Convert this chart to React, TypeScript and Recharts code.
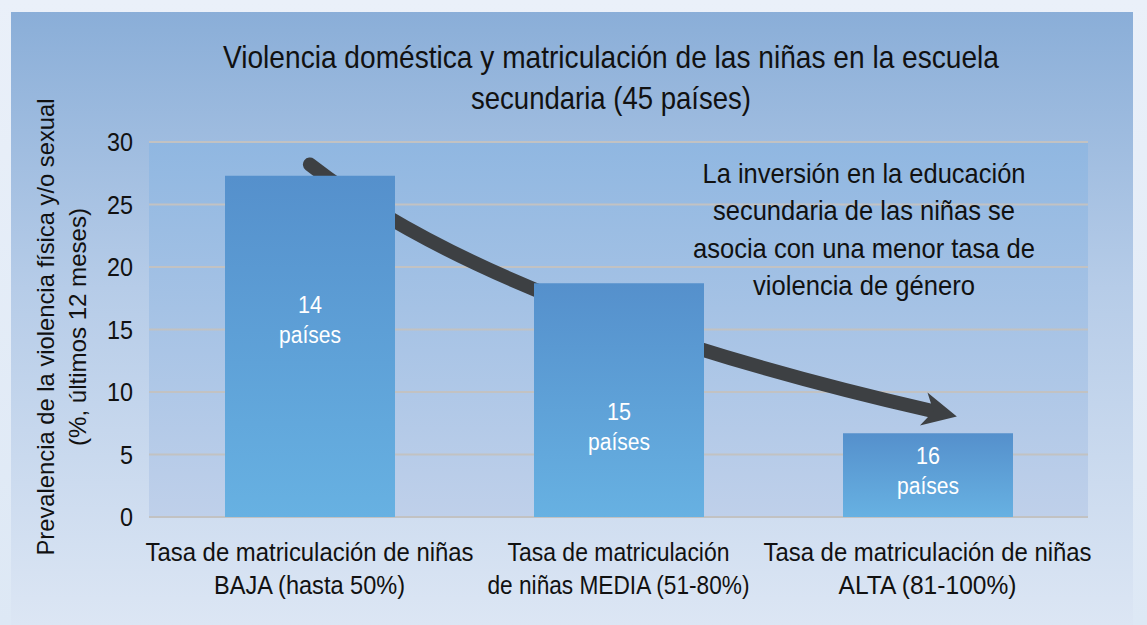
import React from "react"
import {
    BarChart,
    Bar,
    XAxis,
    YAxis,
    CartesianGrid,
    LabelList,
    Customized
} from "recharts"

const categoriesTop = [
    "Tasa de matriculación de niñas",
    "Tasa de matriculación",
    "Tasa de matriculación de niñas"
]
const categoriesBottom = [
    "BAJA (hasta 50%)",
    "de niñas MEDIA (51-80%)",
    "ALTA (81-100%)"
]
const prevalence = [27.3, 18.7, 6.7]
const countries = [14, 15, 16]
const yTicks = [0, 5, 10, 15, 20, 25, 30]

const titleLines = [
    "Violencia doméstica y matriculación de las niñas en la escuela",
    "secundaria (45 países)"
]
const yLabelLines = [
    "Prevalencia de la violencia física y/o sexual",
    "(%, últimos 12 meses)"
]
const noteLines = [
    "La inversión en la educación",
    "secundaria de las niñas se",
    "asocia con una menor tasa de",
    "violencia de género"
]

// the source font is a condensed grotesque: squeeze lines to measured widths
const TITLE_W = [776, 280]
const YLABEL_W = [457, 238]
const NOTE_W = [323, 302, 342, 222]
const XTOP_W = [328, 222, 328]
const XBOTTOM_W = [191, 262, 178]

const FONT = '"Liberation Sans", Arial, sans-serif'
const W = 1147
const H = 625
const M = { top: 142, right: 59, left: 89, bottom: 28 }
const Y_W = 60
const X_H = 80
const PLOT_L = M.left + Y_W
const PLOT_T = M.top
const PLOT_W = W - M.right - PLOT_L
const PLOT_H = H - M.bottom - X_H - PLOT_T
const BAND = PLOT_W / categoriesTop.length

// band units / value units -> pixels (same domain as the axes)
const bx = (u: number) => PLOT_L + u * BAND
const vy = (v: number) => PLOT_T + ((30 - v) / 30) * PLOT_H

const data = prevalence.map((v, i) => ({
    name: categoriesTop[i],
    value: v,
    countries: countries[i]
}))

function FitText({ x, y, w, size, fill = "#111", children }: any) {
    return (
        <text
            x={x}
            y={y}
            textAnchor="middle"
            dominantBaseline="central"
            fontSize={size}
            fill={fill}
            fontFamily={FONT}
            textLength={w}
            lengthAdjust="spacingAndGlyphs"
        >
            {children}
        </text>
    )
}

function XTick({ x, y, payload }: any) {
    const i = payload.index
    return (
        <g transform={`translate(${x},${y})`}>
            <FitText x={0} y={27} w={XTOP_W[i]} size={25}>{categoriesTop[i]}</FitText>
            <FitText x={0} y={60} w={XBOTTOM_W[i]} size={25}>{categoriesBottom[i]}</FitText>
        </g>
    )
}

function YTick({ x, y, payload }: any) {
    const s = String(payload.value)
    return (
        <text
            x={x}
            y={y}
            textAnchor="end"
            dominantBaseline="central"
            fontSize={25}
            fill="#111"
            fontFamily={FONT}
            textLength={s.length * 13}
            lengthAdjust="spacingAndGlyphs"
        >
            {s}
        </text>
    )
}

function CountLabel({ x, y, width, height, index }: any) {
    const dy = height > 120 ? 144 : height * 0.45
    const cx = x + width / 2
    return (
        <g>
            <FitText x={cx} y={y + dy - 15} w={24} size={23} fill="#fff">{countries[index]}</FitText>
            <FitText x={cx} y={y + dy + 15} w={62} size={23} fill="#fff">países</FitText>
        </g>
    )
}

function Overlay() {
    const p0 = [bx(0.514), vy(28.2)]
    const c = [bx(1.12), vy(16.4)]
    const p1 = [bx(2.5), vy(8.5)]
    const ang = Math.atan2(p1[1] - c[1], p1[0] - c[0])
    const deg = (ang * 180) / Math.PI
    const tip = [p1[0] + Math.cos(ang) * 26, p1[1] + Math.sin(ang) * 26]
    return (
        <g>
            <path
                d={`M${p0[0]},${p0[1]} Q${c[0]},${c[1]} ${p1[0]},${p1[1]}`}
                fill="none"
                stroke="#3d4043"
                strokeWidth={14}
                strokeLinecap="round"
            />
            <polygon
                points="0,0 -34,-17 -24,0 -34,17"
                fill="#3d4043"
                transform={`translate(${tip[0]},${tip[1]}) rotate(${deg})`}
            />
            {noteLines.map((l, i) => (
                <FitText key={i} x={864} y={173 + i * 37.5} w={NOTE_W[i]} size={28}>{l}</FitText>
            ))}
            {titleLines.map((l, i) => (
                <FitText key={i} x={611} y={57 + i * 41} w={TITLE_W[i]} size={32}>{l}</FitText>
            ))}
            <g transform="translate(0,327) rotate(-90)">
                <FitText x={0} y={45} w={YLABEL_W[0]} size={24}>{yLabelLines[0]}</FitText>
                <FitText x={0} y={77} w={YLABEL_W[1]} size={24}>{yLabelLines[1]}</FitText>
            </g>
        </g>
    )
}

export default function App() {
    return (
        <div
            style={{
                position: "absolute",
                left: 0,
                top: 0,
                width: W,
                height: H,
                overflow: "hidden",
                background: "linear-gradient(180deg, #eaf0f9 0%, #dde8f5 100%)"
            }}
        >
            <svg width={0} height={0} style={{ position: "absolute" }}>
                <defs>
                    <linearGradient id="barGrad" x1="0" y1="0" x2="0" y2="1">
                        <stop offset="0%" stopColor="#5590cc" />
                        <stop offset="100%" stopColor="#67b1e2" />
                    </linearGradient>
                    <linearGradient id="plotGrad" x1="0" y1="0" x2="0" y2="1">
                        <stop offset="0%" stopColor="#90b7e1" />
                        <stop offset="100%" stopColor="#bfd0ea" />
                    </linearGradient>
                </defs>
            </svg>
            <div
                style={{
                    position: "absolute",
                    left: 11,
                    top: 12,
                    width: 1122,
                    height: 613,
                    background: "linear-gradient(180deg, #8aaed8 0%, #b6cce8 45%, #dce6f4 100%)"
                }}
            />
            <div style={{ position: "absolute", left: 0, top: 0 }}>
                <BarChart width={W} height={H} data={data} margin={M}>
                    <CartesianGrid
                        vertical={false}
                        stroke="#c2c2c2"
                        strokeWidth={2}
                        fill="url(#plotGrad)"
                    />
                    <XAxis
                        dataKey="name"
                        height={X_H}
                        axisLine={false}
                        tickLine={false}
                        tick={<XTick />}
                        interval={0}
                        padding={{ left: 6, right: 6 }}
                    />
                    <YAxis
                        width={Y_W}
                        domain={[0, 30]}
                        ticks={yTicks}
                        axisLine={false}
                        tickLine={false}
                        tickSize={0}
                        tickMargin={16}
                        tick={<YTick />}
                    />
                    <Bar dataKey="value" fill="url(#barGrad)" barSize={170} isAnimationActive={false}>
                        <LabelList dataKey="countries" content={<CountLabel />} />
                    </Bar>
                    <Customized component={Overlay} />
                </BarChart>
            </div>
        </div>
    )
}
